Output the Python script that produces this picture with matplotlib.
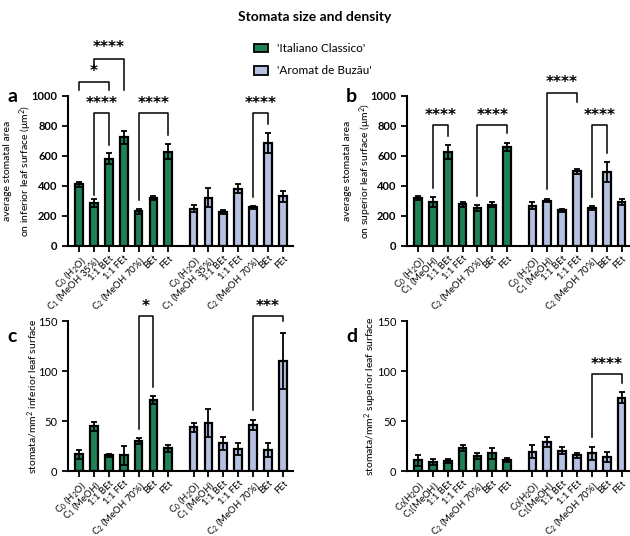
import matplotlib
matplotlib.use("Agg")
import matplotlib.pyplot as plt
from matplotlib.patches import Rectangle
import numpy as np

plt.rcParams['font.family'] = ['Lato', 'DejaVu Sans']
plt.rcParams['mathtext.fontset'] = 'custom'
plt.rcParams['mathtext.rm'] = 'Lato'
plt.rcParams['mathtext.it'] = 'Lato:italic'
plt.rcParams['mathtext.bf'] = 'Lato:bold'
plt.rcParams['mathtext.default'] = 'regular'

GREEN = '#1e8257'
PURPLE = '#b6c1e2'

labels_a = ['C$_0$ (H$_2$O)', 'C$_1$ (MeOH 35%)', '1:1 BEt', '1:1 FEt', 'C$_2$ (MeOH 70%)', 'BEt', 'FEt']
labels_bc = ['C$_0$ (H$_2$O)', 'C$_1$ (MeOH)', '1:1 BEt', '1:1 FEt', 'C$_2$ (MeOH 70%)', 'BEt', 'FEt']
labels_d = ['C$_0$(H$_2$O)', 'C$_1$(MeOH)', '1:1 BEt', '1:1 FEt', 'C$_2$ (MeOH 70%)', 'BEt', 'FEt']

a_green = [410, 285, 582, 725, 232, 320, 630]
a_green_err = [15, 25, 35, 45, 16, 13, 48]
a_purple = [248, 322, 225, 382, 257, 687, 330]
a_purple_err = [22, 65, 12, 28, 11, 65, 35]

b_green = [320, 295, 628, 278, 250, 275, 660]
b_green_err = [12, 32, 47, 15, 20, 15, 28]
b_purple = [268, 302, 238, 497, 252, 492, 296]
b_purple_err = [22, 12, 9, 15, 13, 65, 20]

c_green = [17, 45, 16, 16, 30, 71, 23]
c_green_err = [4.5, 4.5, 1.5, 9.5, 3.3, 4, 3.5]
c_purple = [44, 48, 28, 22, 46, 21, 110]
c_purple_err = [4.5, 14, 6.5, 6.3, 5, 6.7, 28]

d_green = [11, 9, 10, 23, 15, 18, 11]
d_green_err = [5.5, 2.8, 2, 3.3, 3.3, 5.5, 2]
d_purple = [19.5, 29, 20.5, 16, 18, 14, 73.5]
d_purple_err = [6.3, 5.3, 3.3, 2.5, 6.5, 5, 5.5]

W, H = 630, 536
fig = plt.figure(figsize=(W / 100, H / 100), dpi=100)

def axrect(x0, y0, x1, y1):
    return [x0 / W, 1 - y1 / H, (x1 - x0) / W, (y1 - y0) / H]

OFF = 7.7
gpos = np.arange(7)
ppos = np.arange(7) + OFF

def panel(rect, g, ge, p, pe, labels, ylim, yticks, ylabel, label_x, letter, letter_xy, xright, bold_ticks):
    ax = fig.add_axes(rect)
    for pos, vals, errs, col in ((gpos, g, ge, GREEN), (ppos, p, pe, PURPLE)):
        ax.bar(pos, vals, width=0.52, color=col, edgecolor='black', linewidth=1.6, zorder=2)
        ax.errorbar(pos, vals, yerr=errs, fmt='none', ecolor='black', elinewidth=1.3,
                    capsize=2.3, capthick=1.3, zorder=3)
    ax.set_xlim(-0.74, xright)
    ax.set_ylim(*ylim)
    ax.set_yticks(yticks)
    ax.set_xticks(list(gpos) + list(ppos))
    ax.set_xticklabels(labels + labels, rotation=45, ha='right', rotation_mode='anchor', fontsize=6.9)
    for s in ('top', 'right'):
        ax.spines[s].set_visible(False)
    for s in ('left', 'bottom'):
        ax.spines[s].set_linewidth(1.5)
    ax.tick_params(axis='both', width=1.3, length=4, direction='out')
    ax.tick_params(axis='x', pad=1.5)
    ax.tick_params(axis='y', labelsize=8)
    if bold_ticks:
        for t in ax.get_yticklabels():
            t.set_fontweight('bold')
    ax.set_ylabel(ylabel, fontsize=7.5, linespacing=1.45)
    ax.yaxis.set_label_coords(label_x, 0.5)
    fig.text(letter_xy[0] / W, 1 - letter_xy[1] / H, letter, fontsize=14, fontweight='bold',
             ha='left', va='center')
    return ax

def bracket(ax, x1, x2, y, yl, yr, text, ty):
    ax.plot([x1, x1, x2, x2], [yl, y, y, yr], color='black', lw=1.1, clip_on=False, zorder=4)
    ax.text((x1 + x2) / 2, ty, text, ha='center', va='center', fontsize=11,
            fontweight='bold', family='DejaVu Sans', clip_on=False)

# Panel a
axa = panel(axrect(68, 96, 293, 246), a_green, a_green_err, a_purple, a_purple_err, labels_a,
            (0, 1000), [0, 200, 400, 600, 800, 1000],
            'average stomatal area\non inferior leaf surface (μm$^2$)', -0.15, 'a', (7, 96), 14.38, True)
bracket(axa, 0, 2, 1093, 1040, 1040, '*', 1165)
bracket(axa, 1, 3, 1250, 1195, 1040, '****', 1325)
bracket(axa, 1, 2, 888, 340, 675, '****', 950)
bracket(axa, 4, 6, 888, 306, 738, '****', 950)
bracket(axa, ppos[4], ppos[5], 888, 324, 814, '****', 950)

# Panel b
axb = panel(axrect(407, 96, 629, 246), b_green, b_green_err, b_purple, b_purple_err, labels_bc,
            (0, 1000), [0, 200, 400, 600, 800, 1000],
            'average stomatal area\non superior leaf surface (μm$^2$)', -0.15, 'b', (346, 96), 14.2, True)
bracket(axb, 1, 2, 808, 389, 736, '****', 872)
bracket(axb, 4, 6, 808, 333, 754, '****', 872)
bracket(axb, ppos[1], ppos[3], 1022, 378, 962, '****', 1087)
bracket(axb, ppos[4], ppos[5], 808, 324, 620, '****', 872)

# Panel c
axc = panel(axrect(68, 321, 293, 471), c_green, c_green_err, c_purple, c_purple_err, labels_bc,
            (0, 150), [0, 50, 100, 150],
            'stomata/mm$^2$ inferior leaf surface', -0.125, 'c', (7, 336), 14.38, False)
bracket(axc, 4, 5, 155, 42, 84, '*', 165)
bracket(axc, ppos[4], ppos[6], 155, 61, 150, '***', 165)

# Panel d
axd = panel(axrect(407, 321, 629, 471), d_green, d_green_err, d_purple, d_purple_err, labels_d,
            (0, 150), [0, 50, 100, 150],
            'stomata/mm$^2$ superior leaf surface', -0.128, 'd', (346, 336), 14.2, False)
bracket(axd, ppos[4], ppos[6], 96.7, 34, 88, '****', 107)

# Title and legend
fig.text(315 / W, 1 - 17 / H, 'Stomata size and density', ha='center', va='center',
         fontsize=10, fontweight='bold')
for (yy, col, lab) in ((48, GREEN, "'Italiano Classico'"), (70.5, PURPLE, "'Aromat de Buzău'")):
    fig.patches.append(Rectangle(((254) / W, 1 - (yy + 4) / H), 14 / W, 8 / H,
                                 transform=fig.transFigure, facecolor=col,
                                 edgecolor='black', linewidth=1.3))
    fig.text(277 / W, 1 - yy / H, lab, ha='left', va='center', fontsize=8.5)

fig.savefig('out.png', dpi=100)
